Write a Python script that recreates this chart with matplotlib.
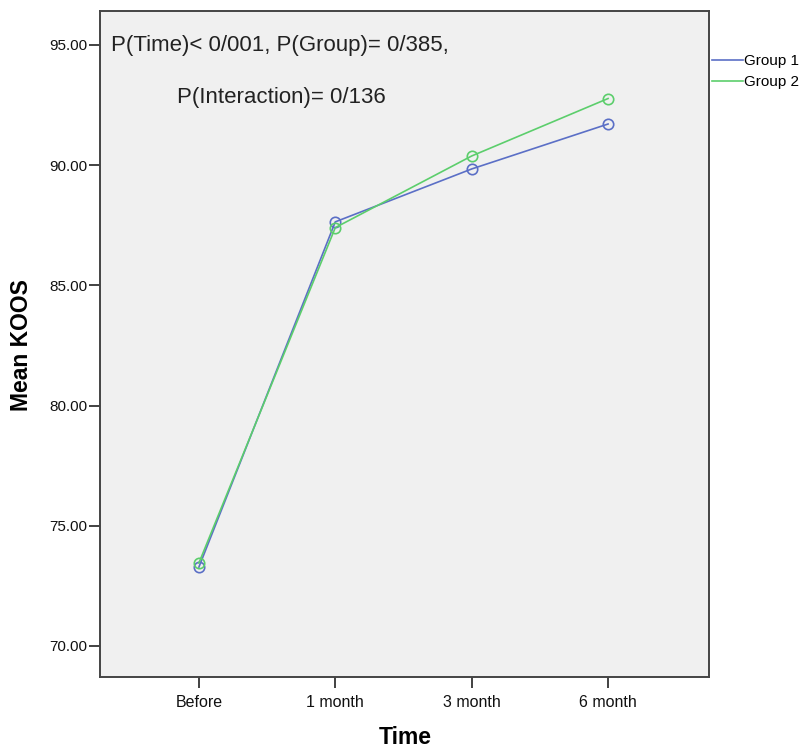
import matplotlib
matplotlib.use("Agg")
import matplotlib.pyplot as plt

times = ["Before", "1 month", "3 month", "6 month"]
group1 = [73.28, 87.64, 89.84, 91.71]
group2 = [73.45, 87.40, 90.38, 92.77]
yticks = [70, 75, 80, 85, 90, 95]

plt.rcParams['font.family'] = ['Liberation Sans', 'DejaVu Sans']

W, H = 806, 749
fig = plt.figure(figsize=(W/100, H/100), dpi=100)
ax = fig.add_axes([100/W, 72/H, 609/W, 666/H])
ax.set_facecolor('#f0f0f0')

c1 = '#5b6fc6'
c2 = '#5cce6c'
x = list(range(len(times)))
ax.plot(x, group1, color=c1, lw=1.2, marker='o', ms=7.5, mfc='none', mec=c1, mew=1.2, label='Group 1')
ax.plot(x, group2, color=c2, lw=1.2, marker='o', ms=7.5, mfc='none', mec=c2, mew=1.2, label='Group 2')

ax.set_xlim(-0.725, 3.74)
ax.set_ylim(68.71, 96.41)
ax.set_xticks(x)
ax.set_xticklabels(times, fontsize=11.5)
ax.set_yticks(yticks)
ax.set_yticklabels([f"{v:.2f}" for v in yticks], fontsize=11)
for s in ['top', 'right', 'left', 'bottom']:
    ax.spines[s].set_color('#444444')
    ax.spines[s].set_linewidth(1.4)
ax.tick_params(direction='out', length=8, width=1.3, color='#333333', labelcolor='#111111')
ax.tick_params(axis='y', pad=1)
ax.tick_params(axis='x', pad=5)

fig.text(22/W, 1 - 345/H, 'Mean KOOS', rotation=90, fontsize=16.5, fontweight='bold',
         ha='center', va='center')
fig.text(405/W, 1 - 737/H, 'Time', fontsize=16.5, fontweight='bold', ha='center', va='center')

ax.text(11/609, 1 - 34/666, 'P(Time)< 0/001, P(Group)= 0/385,', transform=ax.transAxes,
        fontsize=16, va='center', ha='left', color='#222222')
ax.text(77/609, 1 - 87/666, 'P(Interaction)= 0/136', transform=ax.transAxes,
        fontsize=16, va='center', ha='left', color='#222222')

leg = fig.legend(loc='upper left', bbox_to_anchor=(712/W, 1 - 54/H), frameon=False,
                 fontsize=11, handlelength=2.0, handletextpad=0.1, labelspacing=0.45,
                 borderaxespad=0, borderpad=0)
for h in leg.legend_handles:
    h.set_marker('')

fig.savefig('out.png', dpi=100, facecolor='white')
